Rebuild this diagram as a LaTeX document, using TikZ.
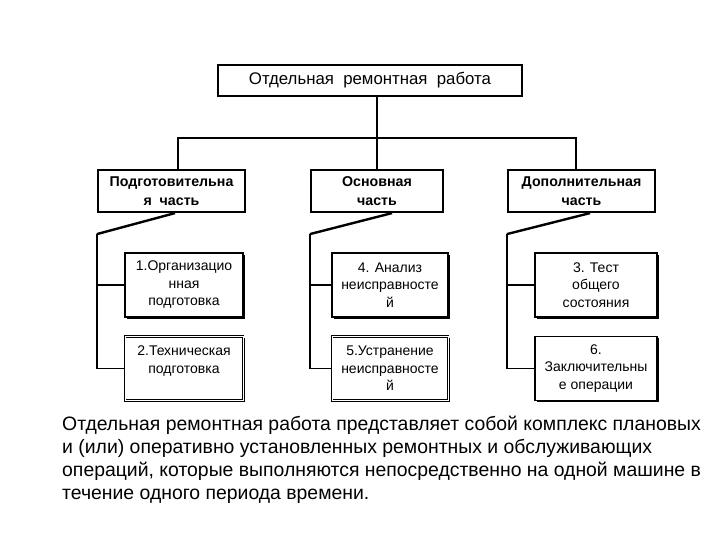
\documentclass[tikz,border=0pt]{standalone}
\usepackage{fontspec}
\setmainfont{Liberation Sans}
\usetikzlibrary{positioning, shadows, calc}
\tikzstyle{head} = [rectangle, draw=black, line width=2.2pt, minimum width=304pt, minimum height=31pt, align=center, inner sep=0pt, font=\fontsize{16.8}{20}\selectfont]
\tikzstyle{part} = [rectangle, draw=black, line width=2.2pt, minimum width=147pt, minimum height=42pt, align=center, inner sep=0pt, font=\bfseries\fontsize{14.2}{19}\selectfont]
\tikzstyle{task} = [rectangle, draw=black, line width=1.8pt, fill=white, minimum width=118pt, minimum height=64pt, align=center, inner sep=0pt, font=\fontsize{14}{17.5}\selectfont, drop shadow={shadow xshift=1.5pt, shadow yshift=-1.5pt, fill=black, opacity=1}]
\tikzstyle{taskd} = [task, double, line width=0.6pt, double distance=1pt]
\tikzstyle{note} = [align=left, inner sep=0pt, font=\fontsize{19.4}{23}\selectfont]
\tikzstyle{link} = [line width=1.8pt]
\tikzstyle{slant} = [line width=2.4pt]

\begin{document}
\begin{tikzpicture}[x=1pt, y=-1pt]
    \useasboundingbox (0,0) rectangle (720,540);
    % Nodes
    \node[head] (work) at (370,80.5) {Отдельная\ \ ремонтная\ \ работа};
    \node[part] (prep) at (171.5,191) {Подготовительна\\я\ \ часть};
    \node[part, minimum width=132pt] (main) at (377,191) {Основная\\часть};
    \node[part] (extra) at (581.5,191) {Дополнительная\\часть};

    \node[task] (org) at (184,285) {1.Организацио\\нная\\подготовка};
    \node[taskd] (tech) at (184,368.5) {2.Техническая\\подготовка\\\mbox{}};
    \node[task, minimum width=116pt] (anal) at (390,285) {4. Анализ\\неисправносте\\й};
    \node[taskd, minimum width=116pt] (fix) at (390,368.5) {5.Устранение\\неисправносте\\й};
    \node[task, minimum width=122pt] (test) at (596,285) {3. Тест\\общего\\состояния};
    \node[task, minimum width=122pt] (final) at (596,368.5) {6.\\Заключительны\\е операции};

    \node[note, anchor=north west] (def) at (62,416) {Отдельная ремонтная работа представляет собой комплекс плановых\\и (или) оперативно установленных ремонтных и обслуживающих\\операций, которые выполняются непосредственно на одной машине в\\течение одного периода времени.};

    % Links to the parts
    \draw[link] (work.south -| main.north) -- (main.north);
    \draw[link] ([xshift=6.5pt]prep.north) -- ++(0,-31) -| ([xshift=-5.5pt]extra.north);

    % Bends under the parts
    \coordinate (prepbend) at ($(prep.south west)+(0,21)$);
    \coordinate (mainbend) at ($(main.south west)+(0,21)$);
    \coordinate (extrabend) at ($(extra.south west)+(0,21)$);
    \draw[slant] ([xshift=3.5pt]prep.south) -- (prepbend);
    \draw[slant] ([xshift=15pt]main.south) -- (mainbend);
    \draw[slant] ([xshift=8.5pt]extra.south) -- (extrabend);

    % Links to the tasks
    \draw[link] (prepbend) |- (tech.west);
    \draw[link] (prepbend |- org.west) -- (org.west);
    \draw[link] (mainbend) |- (fix.west);
    \draw[link] (mainbend |- anal.west) -- (anal.west);
    \draw[link] (extrabend) |- (final.west);
    \draw[link] (extrabend |- test.west) -- (test.west);

\end{tikzpicture}
\end{document}
